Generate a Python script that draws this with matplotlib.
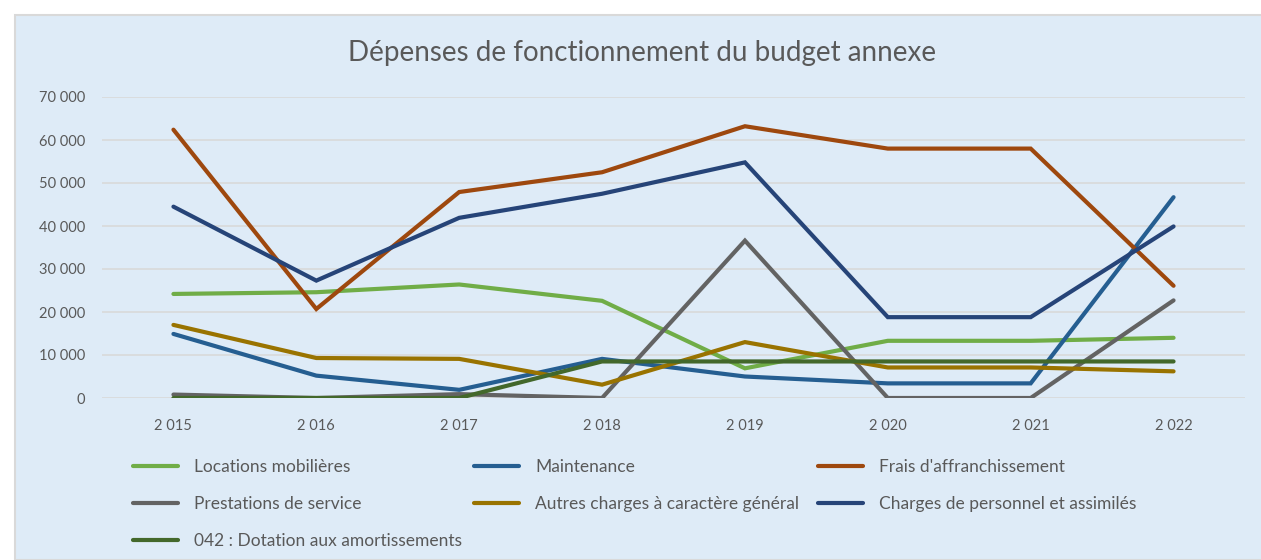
import matplotlib.pyplot as plt
from matplotlib.patches import Rectangle
from matplotlib.ticker import FuncFormatter

# ================= DATA =================
years = ['2 015', '2 016', '2 017', '2 018', '2 019', '2 020', '2 021', '2 022']

locations   = [24200, 24600, 26400, 22600, 6900, 13300, 13300, 14000]
maintenance = [14900, 5200, 1900, 9100, 5000, 3400, 3400, 46700]
frais       = [62400, 20700, 47900, 52500, 63200, 58000, 58000, 26100]
prestations = [800, 0, 900, 0, 36600, 0, 0, 22700]
autres      = [17000, 9300, 9100, 3100, 13000, 7100, 7100, 6200]
personnel   = [44500, 27300, 41900, 47500, 54800, 18800, 18800, 39900]
dotation    = [0, 0, 0, 8500, 8500, 8500, 8500, 8500]

series = [locations, maintenance, frais, prestations, autres, personnel, dotation]
labels = ['Locations mobilières', 'Maintenance', "Frais d'affranchissement",
          'Prestations de service', 'Autres charges à caractère général',
          'Charges de personnel et assimilés', '042 : Dotation aux amortissements']
colors = ['#70AD47', '#255E91', '#9E480E', '#636363', '#997300', '#264478', '#43682B']

# ================= FIGURE =================
W, H = 1261, 560
plt.rcParams['font.family'] = ['Lato', 'DejaVu Sans']
fig = plt.figure(figsize=(W / 100, H / 100), dpi=100)
fig.patch.set_facecolor('white')

bg = '#DEEBF7'
fig.add_artist(Rectangle((15 / W, 0), 1, 1 - 15 / H, transform=fig.transFigure,
                         facecolor=bg, edgecolor='#D9D9D9', linewidth=1.5, zorder=0))

ax = fig.add_axes([102 / W, 1 - 398 / H, (1245 - 102) / W, (398 - 97) / H])
ax.set_facecolor('none')

x = range(len(years))
lines = []
for d, lab, c in zip(series, labels, colors):
    ln, = ax.plot(x, d, color=c, linewidth=3, solid_capstyle='round',
                  solid_joinstyle='miter', label=lab, zorder=3)
    lines.append(ln)

# ================= AXIS =================
ax.set_xlim(-0.5, len(years) - 0.5)
ax.set_ylim(0, 70000)
ax.set_yticks(range(0, 70001, 10000))
ax.yaxis.set_major_formatter(FuncFormatter(lambda v, p: f'{int(v):,}'.replace(',', ' ')))
ax.set_xticks(list(x))
ax.set_xticklabels(years)

ax.grid(axis='y', color='#D9D9D9', linewidth=1.2)
ax.set_axisbelow(True)
for s in ax.spines.values():
    s.set_visible(False)
ax.tick_params(axis='both', length=0, colors='#595959', labelsize=10.5)
ax.tick_params(axis='x', pad=15)
ax.tick_params(axis='y', pad=12)

fig.text(642 / W, 1 - 53 / H, 'Dépenses de fonctionnement du budget annexe',
         ha='center', va='center', fontsize=20, color='#595959')

# ================= LEGEND =================
leg_fs = 12.5
em = leg_fs * 100 / 72
col_x = [133, 474, 818]
row_y = [467, 504, 541]
for i, ln in enumerate(lines):
    col, row = i % 3, i // 3
    leg = fig.legend(handles=[ln], loc='center left',
                     bbox_to_anchor=(col_x[col] / W, 1 - row_y[row] / H),
                     frameon=False, fontsize=leg_fs, handlelength=45 / em,
                     handletextpad=16 / em, borderpad=0, borderaxespad=0)
    for t in leg.get_texts():
        t.set_color('#595959')

fig.savefig('out.png', dpi=100, facecolor=fig.get_facecolor())
